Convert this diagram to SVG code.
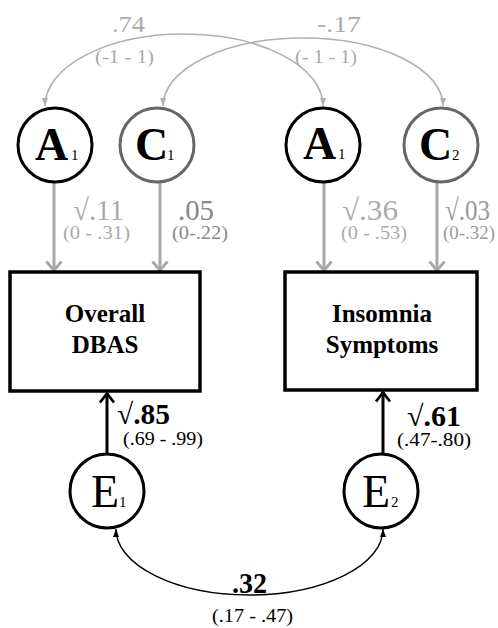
<svg xmlns="http://www.w3.org/2000/svg" width="498" height="628" viewBox="0 0 498 628">
<style>
.node{fill:#fff;stroke-width:3}
.blk{stroke:#000}
.gry{stroke:#666}
.box{fill:#fff;stroke:#000;stroke-width:3.5}
.let{font-family:"Liberation Serif","Times New Roman",serif;font-size:46px;fill:#000}
.sub{font-family:"Liberation Serif","Times New Roman",serif;font-size:15px;fill:#000}
.btxt{font-family:"Liberation Serif","Times New Roman",serif;font-size:25px;font-weight:bold;fill:#000;text-anchor:middle}
.lab{font-family:"Liberation Serif","DejaVu Serif",serif}
.big{font-size:30px}
.sm{font-size:19px}
.top{font-size:24px}
.ci{font-size:19px}
.bold{font-weight:bold;font-size:29px}
.lg{fill:#aaa}
.mg{fill:#888}
.g9{fill:#999}
.k{fill:#000}
.gline{stroke:#a8a8a8;stroke-width:3;fill:none}
.kline{stroke:#000;stroke-width:3;fill:none}
.gcurve{stroke:#b0b0b0;stroke-width:1.6;fill:none}
.kcurve{stroke:#000;stroke-width:1.4;fill:none}
</style>
<defs>
<marker id="chevG" viewBox="0 0 10 16" markerWidth="10" markerHeight="16" refX="9.5" refY="8" orient="auto" markerUnits="userSpaceOnUse" overflow="visible">
<path d="M0,0.5 L9,8 L0,15.5" fill="none" stroke="#a8a8a8" stroke-width="2.8"/>
</marker>
<marker id="chevK" viewBox="0 0 10 16" markerWidth="10" markerHeight="16" refX="9.5" refY="8" orient="auto" markerUnits="userSpaceOnUse" overflow="visible">
<path d="M0,1 L9,8 L0,15" fill="none" stroke="#000" stroke-width="2.8"/>
</marker>
<marker id="triG" viewBox="0 0 8 6" markerWidth="8" markerHeight="6" refX="8" refY="3" orient="auto-start-reverse" markerUnits="userSpaceOnUse">
<path d="M0,0 L8,3 L0,6 z" fill="#b0b0b0"/>
</marker>
<marker id="triK" viewBox="0 0 8 6" markerWidth="8" markerHeight="6" refX="8" refY="3" orient="auto-start-reverse" markerUnits="userSpaceOnUse">
<path d="M0,0 L8,3 L0,6 z" fill="#000"/>
</marker>
</defs>

<g id="connectors">
<path class="gcurve" d="M45,106 A139,72 0 0 1 323,106" marker-start="url(#triG)" marker-end="url(#triG)"/>
<path class="gcurve" d="M163,106 A140,68 0 0 1 443,106" marker-start="url(#triG)" marker-end="url(#triG)"/>
<line class="gline" x1="54" y1="182" x2="54" y2="271" marker-end="url(#chevG)"/>
<line class="gline" x1="160" y1="182" x2="160" y2="271" marker-end="url(#chevG)"/>
<line class="gline" x1="324" y1="182" x2="324" y2="271" marker-end="url(#chevG)"/>
<line class="gline" x1="437" y1="182" x2="437" y2="271" marker-end="url(#chevG)"/>
<line class="kline" x1="107" y1="454" x2="107" y2="393" marker-end="url(#chevK)"/>
<line class="kline" x1="383" y1="454" x2="383" y2="392" marker-end="url(#chevK)"/>
<path class="kcurve" d="M116,529 A133.5,66 0 0 0 383,529" marker-start="url(#triK)" marker-end="url(#triK)"/>
</g>

<g id="labels">
<text class="lab top lg" x="112" y="32" textLength="33" lengthAdjust="spacingAndGlyphs">.74</text>
<text class="lab ci lg" x="95" y="63" textLength="59" lengthAdjust="spacingAndGlyphs">(-1 - 1)</text>
<text class="lab top lg" x="317" y="32" textLength="44" lengthAdjust="spacingAndGlyphs">-.17</text>
<text class="lab ci lg" x="295" y="63" textLength="62" lengthAdjust="spacingAndGlyphs">(- 1 - 1)</text>
<text class="lab big lg" x="73" y="220" textLength="51" lengthAdjust="spacingAndGlyphs">√.11</text>
<text class="lab sm lg" x="63" y="239" textLength="67" lengthAdjust="spacingAndGlyphs">(0 - .31)</text>
<text class="lab big mg" x="178" y="220" textLength="36" lengthAdjust="spacingAndGlyphs">.05</text>
<text class="lab sm mg" x="172" y="239" textLength="56" lengthAdjust="spacingAndGlyphs">(0-.22)</text>
<text class="lab big lg" x="342" y="220" textLength="56" lengthAdjust="spacingAndGlyphs">√.36</text>
<text class="lab sm lg" x="341" y="239" textLength="66" lengthAdjust="spacingAndGlyphs">(0 - .53)</text>
<text class="lab big g9" x="445" y="220" textLength="45" lengthAdjust="spacingAndGlyphs">√.03</text>
<text class="lab sm g9" x="443" y="239" textLength="52" lengthAdjust="spacingAndGlyphs">(0-.32)</text>
<text class="lab bold k" x="117" y="424" textLength="53" lengthAdjust="spacingAndGlyphs">√.85</text>
<text class="lab ci k" x="123" y="445" textLength="80" lengthAdjust="spacingAndGlyphs">(.69 - .99)</text>
<text class="lab bold k" x="407" y="426" textLength="54" lengthAdjust="spacingAndGlyphs">√.61</text>
<text class="lab ci k" x="397" y="446" textLength="74" lengthAdjust="spacingAndGlyphs">(.47-.80)</text>
<text class="lab bold k" x="232" y="593" textLength="35" lengthAdjust="spacingAndGlyphs">.32</text>
<text class="lab ci k" x="212" y="622" textLength="81" lengthAdjust="spacingAndGlyphs">(.17 - .47)</text>
</g>

<g id="A1-left">
<circle class="node blk" cx="55" cy="145" r="37"/>
<text class="let" font-weight="bold" x="35" y="160">A</text>
<text class="sub" x="71" y="160">1</text>
</g>
<g id="C1">
<circle class="node gry" cx="157" cy="145" r="37"/>
<text class="let" font-weight="bold" x="135" y="160">C</text>
<text class="sub" x="167" y="160">1</text>
</g>
<g id="A1-right">
<circle class="node blk" cx="323" cy="145" r="37"/>
<text class="let" font-weight="bold" x="303" y="159">A</text>
<text class="sub" x="338" y="159">1</text>
</g>
<g id="C2">
<circle class="node gry" cx="441" cy="145" r="37"/>
<text class="let" font-weight="bold" x="419" y="160">C</text>
<text class="sub" x="452" y="160">2</text>
</g>
<g id="overall-dbas">
<rect class="box" x="10" y="272" width="190" height="119"/>
<text class="btxt" x="105" y="322">Overall</text>
<text class="btxt" x="105" y="353">DBAS</text>
</g>
<g id="insomnia-symptoms">
<rect class="box" x="285" y="272" width="192" height="118"/>
<text class="btxt" x="382" y="322">Insomnia</text>
<text class="btxt" x="382" y="353">Symptoms</text>
</g>
<g id="E1">
<circle class="node blk" cx="107" cy="491" r="37"/>
<text class="let" x="91" y="507">E</text>
<text class="sub" x="119" y="507">1</text>
</g>
<g id="E2">
<circle class="node blk" cx="381" cy="491" r="37"/>
<text class="let" x="362" y="507">E</text>
<text class="sub" x="391" y="507">2</text>
</g>
</svg>
